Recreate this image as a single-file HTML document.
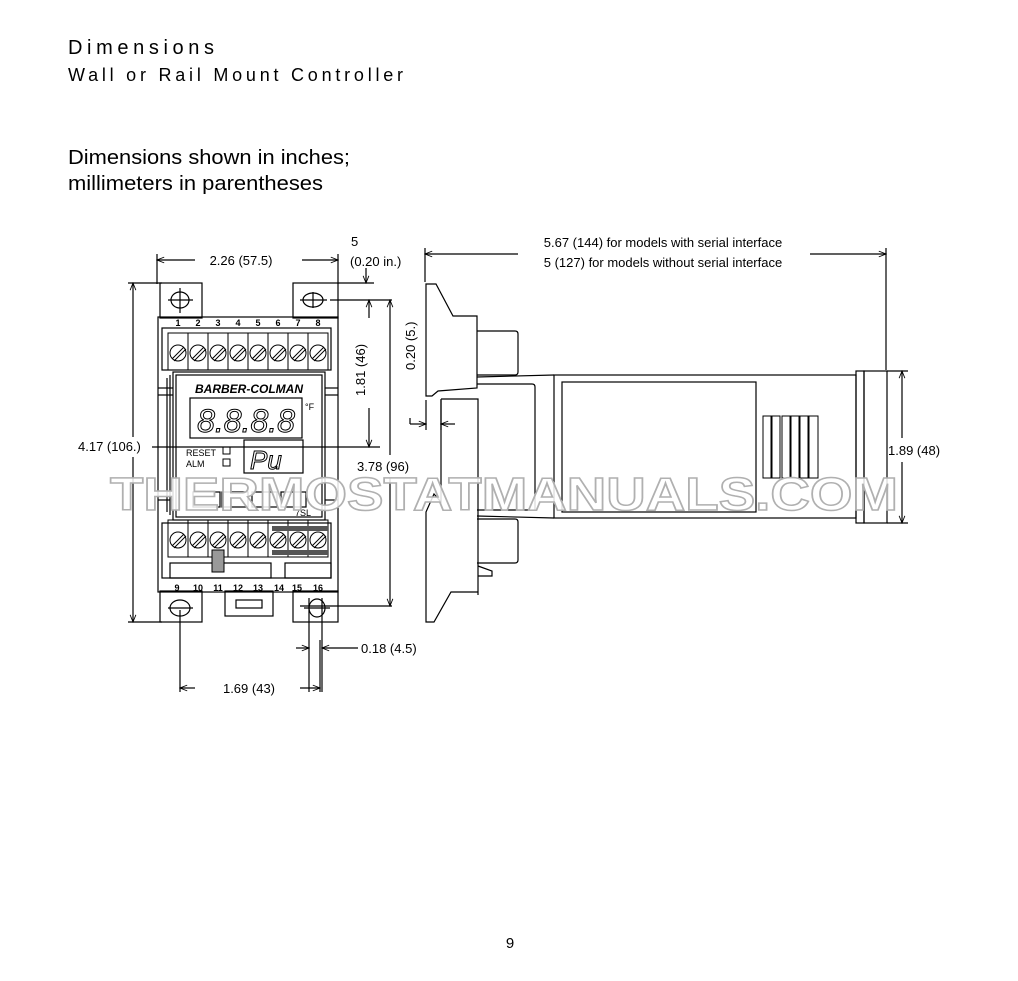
<!DOCTYPE html>
<html><head><meta charset="utf-8"><style>
html,body{margin:0;padding:0;background:#fff;}
svg{display:block;}
text{font-family:"Liberation Sans",sans-serif;}
</style></head><body>
<svg width="1018" height="981" viewBox="0 0 1018 981" xmlns="http://www.w3.org/2000/svg">
<defs>
<marker id="a" viewBox="0 0 10 10" refX="10" refY="5" markerWidth="8" markerHeight="6" orient="auto-start-reverse"><path d="M0,1 L10,5 L0,9" fill="none" stroke="#000" stroke-width="1.2"/></marker>
</defs>
<text x="68" y="54" font-size="20" textLength="146" lengthAdjust="spacing">Dimensions</text>
<text x="68" y="81" font-size="18" textLength="335" lengthAdjust="spacing">Wall or Rail Mount Controller</text>
<text x="68" y="164" font-size="20.5" textLength="282" lengthAdjust="spacingAndGlyphs">Dimensions shown in inches;</text>
<text x="68" y="190" font-size="20.5" textLength="255" lengthAdjust="spacingAndGlyphs">millimeters in parentheses</text>
<text x="510" y="948" font-size="15" text-anchor="middle">9</text>

<g stroke="#000" stroke-width="1.2" fill="none">
<line x1="157" y1="254" x2="157" y2="284"/><line x1="338" y1="254" x2="338" y2="284"/>
<line x1="157" y1="260" x2="195" y2="260" marker-start="url(#a)"/>
<line x1="302" y1="260" x2="338" y2="260" marker-end="url(#a)"/>
<line x1="128" y1="283" x2="162" y2="283"/><line x1="128" y1="622" x2="162" y2="622"/>
<line x1="133" y1="283" x2="133" y2="437" marker-start="url(#a)"/>
<line x1="133" y1="457" x2="133" y2="622" marker-end="url(#a)"/>
<line x1="152" y1="447" x2="380" y2="447"/>
<line x1="338" y1="283" x2="374" y2="283"/><line x1="330" y1="300" x2="392" y2="300"/>
<line x1="366" y1="268" x2="366" y2="283" marker-end="url(#a)"/>
<line x1="369" y1="300" x2="369" y2="318" marker-start="url(#a)"/>
<line x1="369" y1="408" x2="369" y2="447" marker-end="url(#a)"/>
<line x1="390" y1="300" x2="390" y2="455" marker-start="url(#a)"/>
<line x1="390" y1="478" x2="390" y2="606" marker-end="url(#a)"/>
<line x1="300" y1="606" x2="392" y2="606"/>
<line x1="309" y1="598" x2="309" y2="692"/><line x1="322" y1="598" x2="322" y2="692"/>
<line x1="296" y1="648" x2="309" y2="648" marker-end="url(#a)"/>
<line x1="358" y1="648" x2="322" y2="648" marker-end="url(#a)"/>
<line x1="180" y1="610" x2="180" y2="692"/><line x1="320" y1="640" x2="320" y2="692"/>
<line x1="180" y1="688" x2="195" y2="688" marker-start="url(#a)"/>
<line x1="300" y1="688" x2="320" y2="688" marker-end="url(#a)"/>

<rect x="160" y="283" width="42" height="35"/><rect x="293" y="283" width="45" height="35"/>
<rect x="160" y="591" width="42" height="31"/><rect x="293" y="591" width="45" height="31"/>
<ellipse cx="180" cy="300" rx="9" ry="8"/><line x1="168" y1="300" x2="193" y2="300"/><line x1="180" y1="288" x2="180" y2="313"/>
<ellipse cx="313" cy="300" rx="10" ry="7"/><line x1="300" y1="300" x2="327" y2="300"/><line x1="313" y1="292" x2="313" y2="308"/>
<ellipse cx="180" cy="608" rx="10" ry="8"/><line x1="168" y1="608" x2="193" y2="608"/>
<ellipse cx="317" cy="608" rx="8" ry="9"/><line x1="304" y1="608" x2="330" y2="608"/>
<rect x="225" y="591" width="48" height="25"/><rect x="236" y="600" width="26" height="8"/>
<rect x="158" y="317" width="180" height="275"/>
<rect x="162" y="328" width="169" height="42"/>
<rect x="162" y="523" width="169" height="55"/>
<rect x="173" y="372" width="152" height="148"/>
<rect x="176" y="375" width="146" height="142"/>
<line x1="170" y1="375" x2="170" y2="515"/><line x1="167" y1="378" x2="167" y2="512"/>
<line x1="158" y1="388" x2="173" y2="388"/><line x1="158" y1="395" x2="173" y2="395"/>
<line x1="325" y1="388" x2="338" y2="388"/><line x1="325" y1="395" x2="338" y2="395"/>
<line x1="158" y1="500" x2="173" y2="500"/><line x1="325" y1="500" x2="338" y2="500"/>
<rect x="190" y="398" width="112" height="40"/>
<rect x="244" y="440" width="59" height="33"/>
<rect x="223" y="447" width="7" height="7" stroke-width="1"/><rect x="223" y="459" width="7" height="7" stroke-width="1"/>
<rect x="193" y="492" width="27" height="15"/><rect x="222" y="492" width="26" height="15"/>
<rect x="252" y="492" width="25" height="15"/><rect x="281" y="492" width="25" height="15"/>
<rect x="170" y="563" width="101" height="15"/><rect x="285" y="563" width="46" height="15"/>
</g>
<g stroke="#000" stroke-width="1" fill="none">
<g id="tt">
<rect x="168" y="333" width="20" height="37"/><circle cx="178" cy="353" r="8"/><line x1="172" y1="359" x2="184" y2="347"/><line x1="174" y1="361" x2="186" y2="349"/>
</g>
<use href="#tt" x="20"/><use href="#tt" x="40"/><use href="#tt" x="60"/><use href="#tt" x="80"/><use href="#tt" x="100"/><use href="#tt" x="120"/><use href="#tt" x="140"/>
<use href="#tt" y="187"/><use href="#tt" x="20" y="187"/><use href="#tt" x="40" y="187"/><use href="#tt" x="60" y="187"/><use href="#tt" x="80" y="187"/><use href="#tt" x="100" y="187"/><use href="#tt" x="120" y="187"/><use href="#tt" x="140" y="187"/>
</g>
<rect x="272" y="526" width="56" height="5" fill="#555"/>
<rect x="272" y="550" width="56" height="5" fill="#555"/>
<rect x="212" y="550" width="12" height="22" fill="#999" stroke="#000"/>
<g font-size="9" font-weight="bold" text-anchor="middle">
<text x="178" y="326">1</text><text x="198" y="326">2</text><text x="218" y="326">3</text><text x="238" y="326">4</text><text x="258" y="326">5</text><text x="278" y="326">6</text><text x="298" y="326">7</text><text x="318" y="326">8</text>
<text x="177" y="591">9</text><text x="198" y="591">10</text><text x="218" y="591">11</text><text x="238" y="591">12</text><text x="258" y="591">13</text><text x="279" y="591">14</text><text x="297" y="591">15</text><text x="318" y="591">16</text>
</g>
<text x="249" y="393" font-size="12" font-weight="bold" font-style="italic" text-anchor="middle">BARBER-COLMAN</text>
<text x="246" y="432" font-size="32" font-style="italic" text-anchor="middle" style="fill:#fff;stroke:#000;stroke-width:1">8.8.8.8</text>
<text x="305" y="410" font-size="9">°F</text>
<text x="250" y="469" font-size="26" font-style="italic" style="fill:#fff;stroke:#000;stroke-width:1">Pu</text>
<text x="186" y="456" font-size="9">RESET</text><text x="186" y="467" font-size="9">ALM</text>
<text x="295" y="516" font-size="9">7SL</text>
<text x="241" y="265" font-size="13" text-anchor="middle">2.26 (57.5)</text>
<text x="351" y="246" font-size="13">5</text><text x="350" y="266" font-size="13">(0.20 in.)</text>
<text x="78" y="451" font-size="13">4.17 (106.)</text>
<text x="357" y="471" font-size="13">3.78 (96)</text>
<text x="365" y="396" font-size="13" transform="rotate(-90 365 396)">1.81 (46)</text>
<text x="415" y="370" font-size="13" transform="rotate(-90 415 370)">0.20 (5.)</text>
<text x="361" y="653" font-size="13">0.18  (4.5)</text>
<text x="249" y="693" font-size="13" text-anchor="middle">1.69 (43)</text>

<g stroke="#000" stroke-width="1.2" fill="none">
<line x1="425" y1="248" x2="425" y2="282"/><line x1="886" y1="248" x2="886" y2="370"/>
<line x1="425" y1="254" x2="518" y2="254" marker-start="url(#a)"/>
<line x1="810" y1="254" x2="886" y2="254" marker-end="url(#a)"/>
<path d="M426,284 L436,284 L453,316 L477,316 L477,388 L438,391 L432,396 L426,396 Z"/>
<path d="M441,399 L478,399 L478,595 M441,399 L441,502 L434,494 L426,512 L426,622 L434,622 L451,592 L478,592"/>
<path d="M477,331 L515,331 Q518,331 518,334 L518,372 Q518,375 515,375 L477,375"/>
<path d="M477,519 L515,519 Q518,519 518,522 L518,560 Q518,563 515,563 L477,563"/>
<path d="M478,566 L492,571 L492,576 L478,576"/>
<path d="M477,384 L532,384 Q535,384 535,387 L535,510 L477,510"/>
<line x1="477" y1="377" x2="554" y2="375"/><line x1="477" y1="516" x2="554" y2="518"/>
<rect x="554" y="375" width="302" height="143"/>
<rect x="562" y="382" width="194" height="130"/>
<rect x="856" y="371" width="8" height="152"/><rect x="864" y="371" width="23" height="152"/>
<line x1="887" y1="371" x2="908" y2="371"/><line x1="887" y1="523" x2="908" y2="523"/>
<line x1="902" y1="371" x2="902" y2="438" marker-start="url(#a)"/>
<line x1="902" y1="462" x2="902" y2="523" marker-end="url(#a)"/>
<line x1="426" y1="400" x2="426" y2="430"/><line x1="441" y1="400" x2="441" y2="430"/>
<line x1="410" y1="424" x2="426" y2="424" marker-end="url(#a)"/>
<line x1="455" y1="424" x2="441" y2="424" marker-end="url(#a)"/>
<line x1="410" y1="418" x2="410" y2="424"/>
</g>
<g stroke="#000" stroke-width="1" fill="none">
<rect x="763" y="416" width="8" height="62"/><rect x="772" y="416" width="8" height="62"/>
<rect x="782" y="416" width="8" height="62"/><rect x="791" y="416" width="8" height="62"/>
<rect x="800" y="416" width="8" height="62"/><rect x="809" y="416" width="9" height="62"/>
</g>
<text x="663" y="247" font-size="13" text-anchor="middle">5.67 (144) for models with serial interface</text>
<text x="663" y="267" font-size="13" text-anchor="middle">5 (127) for models without serial interface</text>
<text x="888" y="455" font-size="13">1.89 (48)</text>

<text x="110" y="510" font-size="46" font-weight="bold" textLength="788" lengthAdjust="spacingAndGlyphs" style="fill:#fff;fill-opacity:0.85;stroke:#b0b0b0;stroke-width:1.5">THERMOSTATMANUALS.COM</text>
</svg>
</body></html>
